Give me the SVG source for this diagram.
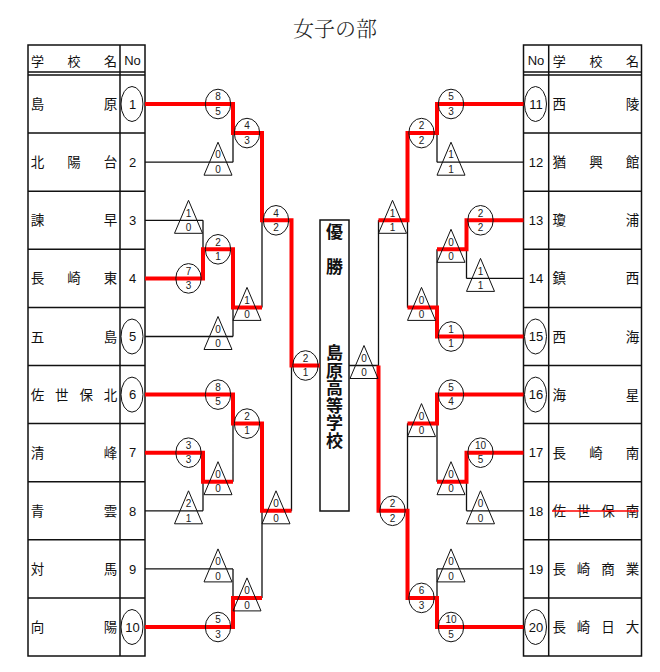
<svg xmlns="http://www.w3.org/2000/svg" width="660" height="672" viewBox="0 0 660 672">
<style>
.tb{fill:none;stroke:#111;stroke-width:1.5}
.bk{fill:none;stroke:#111;stroke-width:1.3}
.rd{fill:none;stroke:#f00;stroke-width:4;stroke-linejoin:miter}
.mk{fill:none;stroke:#111;stroke-width:1}
.s{font-family:"Liberation Sans",sans-serif;font-size:10px;text-anchor:middle;fill:#222}
.nm{font-family:"Liberation Sans","Noto Sans CJK JP",sans-serif;font-size:13.5px;text-anchor:middle;fill:#111}
.no{font-family:"Liberation Sans",sans-serif;font-size:13px;text-anchor:middle;fill:#111}
.hd{font-family:"Liberation Sans","Noto Sans CJK JP",sans-serif;font-size:13px;text-anchor:middle;fill:#111}
.bx{font-family:"Liberation Sans","Noto Sans CJK JP",sans-serif;font-size:17px;font-weight:bold;text-anchor:middle;fill:#111}
.ti{font-family:"Liberation Serif","Noto Serif CJK JP","Noto Sans CJK JP",serif;font-size:21px;font-weight:300;text-anchor:middle;fill:#222}
</style>
<defs>
<ellipse id="ci" cx="0" cy="0" rx="12.7" ry="14.8" class="mk"/>
<path id="tr" d="M0,-20L-14,13H14Z" class="mk"/>
<ellipse id="seed" cx="0" cy="0" rx="11" ry="17.5" class="mk"/>
</defs>
<rect width="660" height="672" fill="#fff"/>
<text class="ti" x="335" y="36">女子の部</text>

<!-- tables -->
<g id="table-left" class="tb">
<rect x="28" y="45" width="117" height="611"/>
<path d="M120,45V656M28,72H145M28,75H145M28,133.1H145M28,191.2H145M28,249.3H145M28,307.4H145M28,365.5H145M28,423.6H145M28,481.7H145M28,539.8H145M28,597.9H145"/>
</g>
<g id="table-right" class="tb">
<rect x="523.5" y="45" width="118" height="611"/>
<path d="M548.7,45V656M523.5,72H641.5M523.5,75H641.5M523.5,133.1H641.5M523.5,191.2H641.5M523.5,249.3H641.5M523.5,307.4H641.5M523.5,365.5H641.5M523.5,423.6H641.5M523.5,481.7H641.5M523.5,539.8H641.5M523.5,597.9H641.5"/>
</g>
<g id="header-left">
<text class="hd" x="37.5 74 110.5" y="65.5">学校名</text>
<text class="no" x="132.5" y="65">No</text>
</g>
<g id="header-right">
<text class="no" x="536" y="65">No</text>
<text class="hd" x="559.2 595.9 632.5" y="65.5">学校名</text>
</g>

<!-- teams left -->
<g id="team1"><text class="nm" x="37.5 110.5" y="109">島原</text><use href="#seed" x="132" y="104"/><text class="no" x="132.5" y="108.7">1</text></g>
<g id="team2"><text class="nm" x="37.5 74 110.5" y="167.2">北陽台</text><text class="no" x="132.5" y="166.9">2</text></g>
<g id="team3"><text class="nm" x="37.5 110.5" y="225.3">諫早</text><text class="no" x="132.5" y="225">3</text></g>
<g id="team4"><text class="nm" x="37.5 74 110.5" y="283.4">長崎東</text><text class="no" x="132.5" y="283.1">4</text></g>
<g id="team5"><text class="nm" x="37.5 110.5" y="341.5">五島</text><use href="#seed" x="132" y="336.5"/><text class="no" x="132.5" y="341.2">5</text></g>
<g id="team6"><text class="nm" x="37.5 61.8 86.2 110.5" y="399.6">佐世保北</text><use href="#seed" x="132" y="394.6"/><text class="no" x="132.5" y="399.3">6</text></g>
<g id="team7"><text class="nm" x="37.5 110.5" y="457.7">清峰</text><text class="no" x="132.5" y="457.4">7</text></g>
<g id="team8"><text class="nm" x="37.5 110.5" y="515.8">青雲</text><text class="no" x="132.5" y="515.5">8</text></g>
<g id="team9"><text class="nm" x="37.5 110.5" y="573.9">対馬</text><text class="no" x="132.5" y="573.6">9</text></g>
<g id="team10"><text class="nm" x="37.5 110.5" y="632">向陽</text><use href="#seed" x="132" y="627"/><text class="no" x="132.5" y="631.7">10</text></g>

<!-- teams right -->
<g id="team11"><use href="#seed" x="535.5" y="104"/><text class="no" x="536" y="108.7">11</text><text class="nm" x="559.2 632.5" y="109">西陵</text></g>
<g id="team12"><text class="no" x="536" y="166.9">12</text><text class="nm" x="559.2 595.9 632.5" y="167.2">猶興館</text></g>
<g id="team13"><text class="no" x="536" y="225">13</text><text class="nm" x="559.2 632.5" y="225.3">瓊浦</text></g>
<g id="team14"><text class="no" x="536" y="283.1">14</text><text class="nm" x="559.2 632.5" y="283.4">鎮西</text></g>
<g id="team15"><use href="#seed" x="535.5" y="336.5"/><text class="no" x="536" y="341.2">15</text><text class="nm" x="559.2 632.5" y="341.5">西海</text></g>
<g id="team16"><use href="#seed" x="535.5" y="394.6"/><text class="no" x="536" y="399.3">16</text><text class="nm" x="559.2 632.5" y="399.6">海星</text></g>
<g id="team17"><text class="no" x="536" y="457.4">17</text><text class="nm" x="559.2 595.9 632.5" y="457.7">長崎南</text></g>
<g id="team18"><text class="no" x="536" y="515.5">18</text><text class="nm" x="559.2 583.6 608.1 632.5" y="515.8">佐世保南</text><line x1="552" y1="511" x2="638.5" y2="511" stroke="#f00" stroke-width="1.3"/></g>
<g id="team19"><text class="no" x="536" y="573.6">19</text><text class="nm" x="559.2 583.6 608.1 632.5" y="573.9">長崎商業</text></g>
<g id="team20"><use href="#seed" x="535.5" y="627"/><text class="no" x="536" y="631.7">20</text><text class="nm" x="559.2 583.6 608.1 632.5" y="632">長崎日大</text></g>

<!-- champion box -->
<g id="champion">
<rect x="320" y="220" width="29" height="291" fill="#fff" class="tb"/>
<text class="bx" x="334.5" y="237.5">優</text>
<text class="bx" x="334.5" y="272.7">勝</text>
<text class="bx" x="334.5" y="359">島</text>
<text class="bx" x="334.5" y="376.5">原</text>
<text class="bx" x="334.5" y="394">高</text>
<text class="bx" x="334.5" y="411.5">等</text>
<text class="bx" x="334.5" y="429">学</text>
<text class="bx" x="334.5" y="446.5">校</text>
</g>

<!-- connectors -->
<g id="connectors">
<path class="bk" d="M145,104H233M145,162.2H233M233,104V162.2M233,133.1H262M145,220.3H203M145,278.4H203M203,220.3V278.4M203,249.3H233M145,336.5H233M233,249.3V336.5M233,307.4H262M262,133.1V307.4M262,220.3H291.5M145,394.6H233M145,452.7H203M145,510.8H203M203,452.7V510.8M203,481.7H233M233,394.6V481.7M233,423.6H262M145,568.9H233M145,627H233M233,568.9V627M233,597.9H262M262,423.6V597.9M262,510.8H291.5M291.5,220.3V510.8M291.5,365.5H320"/>
<path class="bk" d="M523.5,104H437M523.5,162.2H437M437,104V162.2M437,133.1H407.5M523.5,220.3H466.5M523.5,278.4H466.5M466.5,220.3V278.4M466.5,249.3H437M523.5,336.5H437M437,249.3V336.5M437,307.4H407.5M407.5,133.1V307.4M407.5,220.3H378.5M523.5,394.6H437M523.5,452.7H466.5M523.5,510.8H466.5M466.5,452.7V510.8M466.5,481.7H437M437,394.6V481.7M437,423.6H407.5M523.5,568.9H437M523.5,627H437M437,568.9V627M437,597.9H407.5M407.5,423.6V597.9M407.5,510.8H378.5M378.5,220.3V510.8M378.5,365.5H349"/>
<path class="rd" d="M145,104H233V133.1H262V220.3H291.5V365.5H320"/>
<path class="rd" d="M145,278.4H203V249.3H233V307.4H262"/>
<path class="rd" d="M145,394.6H233V423.6H262V510.8H291.5"/>
<path class="rd" d="M145,452.7H203V481.7H233"/>
<path class="rd" d="M145,627H233V597.9H262"/>
<path class="rd" d="M523.5,104H437V133.1H407.5V220.3H378.5"/>
<path class="rd" d="M523.5,220.3H466.5V249.3H437"/>
<path class="rd" d="M523.5,336.5H437V307.4H407.5"/>
<path class="rd" d="M523.5,394.6H437V423.6H407.5"/>
<path class="rd" d="M523.5,452.7H466.5V481.7H437"/>
<path class="rd" d="M523.5,627H437V597.9H407.5V510.8H378.5V365.5"/>
</g>

<!-- scores left -->
<g id="scores-left">
<g transform="translate(218,104)"><use href="#ci"/><text class="s" y="-3.8">8</text><text class="s" y="10.8">5</text></g>
<g transform="translate(218,162.2)"><use href="#tr"/><text class="s" y="-3.8">0</text><text class="s" y="10.8">0</text></g>
<g transform="translate(188.5,220.3)"><use href="#tr"/><text class="s" y="-3.8">1</text><text class="s" y="10.8">0</text></g>
<g transform="translate(188.5,278.4)"><use href="#ci"/><text class="s" y="-3.8">7</text><text class="s" y="10.8">3</text></g>
<g transform="translate(218,249.3)"><use href="#ci"/><text class="s" y="-3.8">2</text><text class="s" y="10.8">1</text></g>
<g transform="translate(218,336.5)"><use href="#tr"/><text class="s" y="-3.8">0</text><text class="s" y="10.8">0</text></g>
<g transform="translate(247,133.1)"><use href="#ci"/><text class="s" y="-3.8">4</text><text class="s" y="10.8">3</text></g>
<g transform="translate(247,307.4)"><use href="#tr"/><text class="s" y="-3.8">1</text><text class="s" y="10.8">0</text></g>
<g transform="translate(276,220.3)"><use href="#ci"/><text class="s" y="-3.8">4</text><text class="s" y="10.8">2</text></g>
<g transform="translate(218,394.6)"><use href="#ci"/><text class="s" y="-3.8">8</text><text class="s" y="10.8">5</text></g>
<g transform="translate(188.5,452.7)"><use href="#ci"/><text class="s" y="-3.8">3</text><text class="s" y="10.8">3</text></g>
<g transform="translate(188.5,510.8)"><use href="#tr"/><text class="s" y="-3.8">2</text><text class="s" y="10.8">1</text></g>
<g transform="translate(218,481.7)"><use href="#tr"/><text class="s" y="-3.8">0</text><text class="s" y="10.8">0</text></g>
<g transform="translate(247,423.6)"><use href="#ci"/><text class="s" y="-3.8">2</text><text class="s" y="10.8">1</text></g>
<g transform="translate(218,568.9)"><use href="#tr"/><text class="s" y="-3.8">0</text><text class="s" y="10.8">0</text></g>
<g transform="translate(218,627)"><use href="#ci"/><text class="s" y="-3.8">5</text><text class="s" y="10.8">3</text></g>
<g transform="translate(247,597.9)"><use href="#tr"/><text class="s" y="-3.8">0</text><text class="s" y="10.8">0</text></g>
<g transform="translate(276,510.8)"><use href="#tr"/><text class="s" y="-3.8">0</text><text class="s" y="10.8">0</text></g>
<g transform="translate(305.5,365.5)"><use href="#ci"/><text class="s" y="-3.8">2</text><text class="s" y="10.8">1</text></g>
</g>

<!-- scores right -->
<g id="scores-right">
<g transform="translate(451,104)"><use href="#ci"/><text class="s" y="-3.8">5</text><text class="s" y="10.8">3</text></g>
<g transform="translate(451,162.2)"><use href="#tr"/><text class="s" y="-3.8">1</text><text class="s" y="10.8">1</text></g>
<g transform="translate(421.5,133.1)"><use href="#ci"/><text class="s" y="-3.8">2</text><text class="s" y="10.8">2</text></g>
<g transform="translate(480.5,220.3)"><use href="#ci"/><text class="s" y="-3.8">2</text><text class="s" y="10.8">2</text></g>
<g transform="translate(480.5,278.4)"><use href="#tr"/><text class="s" y="-3.8">1</text><text class="s" y="10.8">1</text></g>
<g transform="translate(451,249.3)"><use href="#tr"/><text class="s" y="-3.8">0</text><text class="s" y="10.8">0</text></g>
<g transform="translate(451,336.5)"><use href="#ci"/><text class="s" y="-3.8">1</text><text class="s" y="10.8">1</text></g>
<g transform="translate(421.5,307.4)"><use href="#tr"/><text class="s" y="-3.8">0</text><text class="s" y="10.8">0</text></g>
<g transform="translate(392.5,220.3)"><use href="#tr"/><text class="s" y="-3.8">1</text><text class="s" y="10.8">1</text></g>
<g transform="translate(451,394.6)"><use href="#ci"/><text class="s" y="-3.8">5</text><text class="s" y="10.8">4</text></g>
<g transform="translate(480.5,452.7)"><use href="#ci"/><text class="s" y="-3.8">10</text><text class="s" y="10.8">5</text></g>
<g transform="translate(480.5,510.8)"><use href="#tr"/><text class="s" y="-3.8">0</text><text class="s" y="10.8">0</text></g>
<g transform="translate(451,481.7)"><use href="#tr"/><text class="s" y="-3.8">0</text><text class="s" y="10.8">0</text></g>
<g transform="translate(421.5,423.6)"><use href="#tr"/><text class="s" y="-3.8">0</text><text class="s" y="10.8">0</text></g>
<g transform="translate(451,568.9)"><use href="#tr"/><text class="s" y="-3.8">0</text><text class="s" y="10.8">0</text></g>
<g transform="translate(451,627)"><use href="#ci"/><text class="s" y="-3.8">10</text><text class="s" y="10.8">5</text></g>
<g transform="translate(421.5,597.9)"><use href="#ci"/><text class="s" y="-3.8">6</text><text class="s" y="10.8">3</text></g>
<g transform="translate(392.5,510.8)"><use href="#ci"/><text class="s" y="-3.8">2</text><text class="s" y="10.8">2</text></g>
<g transform="translate(364,365.5)"><use href="#tr"/><text class="s" y="-3.8">0</text><text class="s" y="10.8">0</text></g>
</g>
</svg>
